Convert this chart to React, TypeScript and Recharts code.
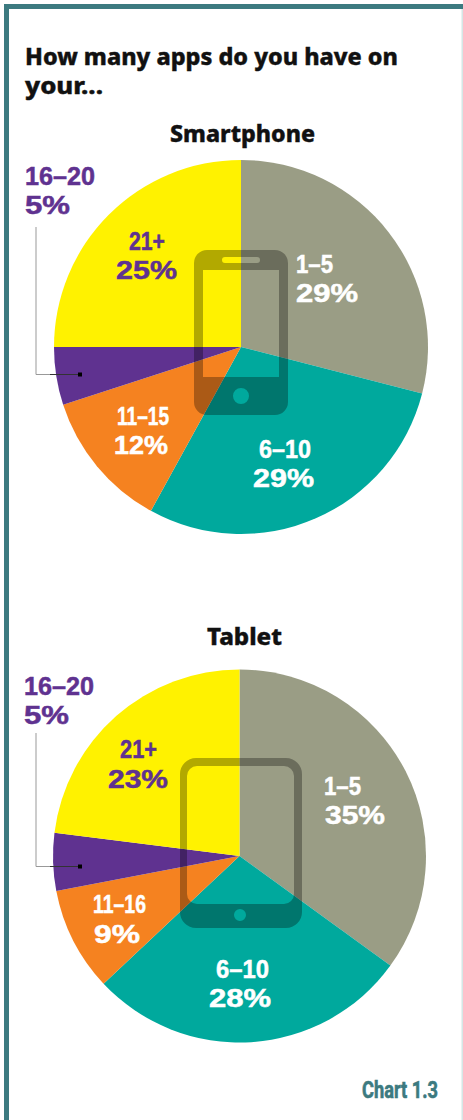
import React from "react";
import { PieChart, Pie, Cell } from "recharts";

const categoriesPhone = ["1–5", "6–10", "11–15", "16–20", "21+"];
const categoriesTablet = ["1–5", "6–10", "11–16", "16–20", "21+"];
const phoneValues = [29, 29, 12, 5, 25];
const tabletValues = [35, 28, 9, 5, 23];
const sliceColors = ["#9a9d85", "#00a99d", "#f58220", "#5f3290", "#fff200"];
const titleLines = ["How many apps do you have on", "your..."];
const chartTag = "Chart 1.3";

const phoneData = categoriesPhone.map((name, i) => ({ name, value: phoneValues[i] }));
const tabletData = categoriesTablet.map((name, i) => ({ name, value: tabletValues[i] }));

const FONT = "'Noto Sans', 'Open Sans', sans-serif";
const LABEL_FONT = "'Liberation Sans', Arial, sans-serif";
const PURPLE = "#5f3290";
const TEAL = "#3c7a80";

type L = { x: number; y: number; w: number; t: string; c: string };
function T({ x, y, w, t, c }: L) {
  return (
    <text x={x} y={y} fill={c} stroke={c} strokeWidth={0.5} fontFamily={LABEL_FONT} fontWeight={700} fontSize={25}
      textLength={w} lengthAdjust="spacingAndGlyphs">{t}</text>
  );
}

function H({ x, y, w, t }: { x: number; y: number; w: number; t: string }) {
  return (
    <text x={x} y={y} fill="#111" stroke="#111" strokeWidth={0.4} fontFamily={FONT} fontWeight={800} fontSize={23}
      textLength={w} lengthAdjust="spacingAndGlyphs">{t}</text>
  );
}

function rr(x: number, y: number, w: number, h: number, r: number) {
  return `M${x + r} ${y}H${x + w - r}A${r} ${r} 0 0 1 ${x + w} ${y + r}V${y + h - r}A${r} ${r} 0 0 1 ${x + w - r} ${y + h}H${x + r}A${r} ${r} 0 0 1 ${x} ${y + h - r}V${y + r}A${r} ${r} 0 0 1 ${x + r} ${y}Z`;
}
function circ(cx: number, cy: number, r: number) {
  return `M${cx - r} ${cy}A${r} ${r} 0 1 0 ${cx + r} ${cy}A${r} ${r} 0 1 0 ${cx - r} ${cy}Z`;
}

const phoneIcon = [rr(194, 250, 94, 165, 13), rr(203, 270, 76, 107, 0), rr(222, 257, 38, 6, 3), circ(241, 396, 8)].join("");
const tabletIcon = [rr(180, 758, 122, 170, 16), rr(187, 766, 107, 138, 10), circ(240, 915, 6)].join("");

export default function App() {
  return (
    <div style={{ position: "absolute", left: 0, top: 0, width: 463, height: 1120, background: "#fff", overflow: "hidden" }}>
      <div style={{ position: "absolute", left: 0, top: 0 }}>
        <PieChart width={463} height={1120} margin={{ top: 0, right: 0, bottom: 0, left: 0 }}>
          <Pie data={phoneData} dataKey="value" nameKey="name" cx={241} cy={347} outerRadius={187} innerRadius={0}
            startAngle={90} endAngle={-270} stroke="none" isAnimationActive={false} label={false} labelLine={false}>
            {phoneData.map((d, i) => <Cell key={d.name} fill={sliceColors[i]} />)}
          </Pie>
          <Pie data={tabletData} dataKey="value" nameKey="name" cx={239.5} cy={856} outerRadius={186.5} innerRadius={0}
            startAngle={90} endAngle={-270} stroke="none" isAnimationActive={false} label={false} labelLine={false}>
            {tabletData.map((d, i) => <Cell key={d.name} fill={sliceColors[i]} />)}
          </Pie>
        </PieChart>
      </div>
      <svg width={463} height={1120} style={{ position: "absolute", left: 0, top: 0 }}>
        <rect x={4} y={4} width={459} height={5} fill={TEAL} />
        <rect x={4} y={4} width={5} height={1116} fill={TEAL} />
        <rect x={461.5} y={9} width={1.5} height={1111} fill="#d5e6e6" />

        <path d={phoneIcon} fill="#000" fillOpacity={0.3} fillRule="evenodd" />
        <path d={tabletIcon} fill="#000" fillOpacity={0.3} fillRule="evenodd" />

        <H x={25} y={65} w={373} t={titleLines[0]} />
        <H x={25} y={94} w={78} t={titleLines[1]} />
        <H x={170} y={142} w={145} t="Smartphone" />
        <H x={207} y={645} w={75} t="Tablet" />

        <T x={25} y={185} w={70} t={categoriesPhone[3]} c={PURPLE} />
        <T x={25} y={214} w={45} t={`${phoneValues[3]}%`} c={PURPLE} />
        <T x={129} y={250} w={36} t={categoriesPhone[4]} c={PURPLE} />
        <T x={116} y={279} w={61} t={`${phoneValues[4]}%`} c={PURPLE} />
        <T x={296} y={273} w={37} t={categoriesPhone[0]} c="#fff" />
        <T x={296} y={302} w={62} t={`${phoneValues[0]}%`} c="#fff" />
        <T x={259} y={458} w={52} t={categoriesPhone[1]} c="#fff" />
        <T x={253} y={487} w={61} t={`${phoneValues[1]}%`} c="#fff" />
        <T x={117} y={425} w={52} t={categoriesPhone[2]} c="#fff" />
        <T x={114} y={454} w={54} t={`${phoneValues[2]}%`} c="#fff" />

        <T x={24} y={695} w={70} t={categoriesTablet[3]} c={PURPLE} />
        <T x={24} y={724} w={45} t={`${tabletValues[3]}%`} c={PURPLE} />
        <T x={120} y={758} w={37} t={categoriesTablet[4]} c={PURPLE} />
        <T x={108} y={788} w={60} t={`${tabletValues[4]}%`} c={PURPLE} />
        <T x={324} y={795} w={37} t={categoriesTablet[0]} c="#fff" />
        <T x={325} y={824} w={60} t={`${tabletValues[0]}%`} c="#fff" />
        <T x={216} y={978} w={53} t={categoriesTablet[1]} c="#fff" />
        <T x={209} y={1007} w={62} t={`${tabletValues[1]}%`} c="#fff" />
        <T x={93} y={913} w={53} t={categoriesTablet[2]} c="#fff" />
        <T x={94} y={943} w={46} t={`${tabletValues[2]}%`} c="#fff" />

        <path d="M36 227V374.5H80" fill="none" stroke="#999" strokeWidth={1} />
        <path d="M50 374.5H80" fill="none" stroke="#333" strokeWidth={1} />
        <rect x={78} y={372.5} width={4} height={4} fill="#000" />
        <path d="M36 733V866.5H80" fill="none" stroke="#999" strokeWidth={1} />
        <path d="M50 866.5H80" fill="none" stroke="#333" strokeWidth={1} />
        <rect x={78} y={864.5} width={4} height={4} fill="#000" />

        <text x={362} y={1098} fill={TEAL} stroke={TEAL} strokeWidth={0.6} fontFamily="'Liberation Sans Narrow', 'Roboto', sans-serif" fontWeight={700} fontSize={23} textLength={76} lengthAdjust="spacingAndGlyphs">{chartTag}</text>
      </svg>
    </div>
  );
}
